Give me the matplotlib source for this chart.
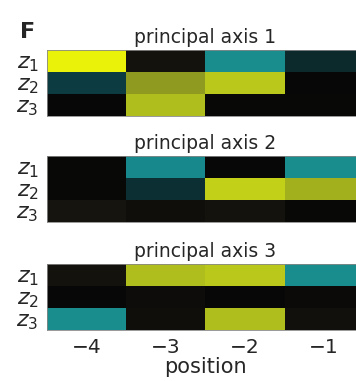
import numpy as np
import matplotlib
matplotlib.use("Agg")
import matplotlib.pyplot as plt
from matplotlib.colors import LinearSegmentedColormap

plt.rcParams['font.family'] = ['DejaVu Sans']
plt.rcParams['mathtext.fontset'] = 'dejavusans'

# positions along the sequence and the latent rows
positions = [-4, -3, -2, -1]
row_labels = ['$z_1$', '$z_2$', '$z_3$']
titles = ['principal axis 1', 'principal axis 2', 'principal axis 3']

# loading magnitudes (0..1)
axis1 = [[1.00, 0.06, 0.50, 0.18],
         [0.30, 0.70, 0.83, 0.00],
         [0.00, 0.80, 0.01, 0.01]]
axis2 = [[0.01, 0.49, 0.00, 0.50],
         [0.01, 0.22, 0.86, 0.76],
         [0.07, 0.04, 0.06, 0.01]]
axis3 = [[0.06, 0.80, 0.83, 0.50],
         [0.00, 0.03, 0.00, 0.02],
         [0.50, 0.04, 0.80, 0.05]]

cmap = LinearSegmentedColormap.from_list('pca', [
    (0.00, '#070707'),
    (0.07, '#17150f'),
    (0.18, '#0c2a2c'),
    (0.30, '#0d3c42'),
    (0.50, '#188c90'),
    (0.70, '#8f9a22'),
    (0.82, '#b6c61c'),
    (1.00, '#eaf20a'),
])

txt = '#262626'
fig = plt.figure(figsize=(3.56, 3.81), dpi=100)
bottoms = [0.696, 0.417, 0.134]
for i, (data, title) in enumerate(zip([axis1, axis2, axis3], titles)):
    ax = fig.add_axes([0.132, bottoms[i], 0.888, 0.173])
    ax.imshow(np.array(data), cmap=cmap, vmin=0, vmax=1, aspect='auto',
              interpolation='nearest')
    ax.set_title(title, fontsize=13.5, pad=5, color=txt)
    ax.set_yticks(range(len(row_labels)))
    ax.set_yticklabels(row_labels, fontsize=16, color=txt)
    ax.tick_params(axis='y', length=0, pad=6)
    ax.tick_params(axis='x', length=0, pad=6)
    if i == 2:
        ax.set_xticks(range(len(positions)))
        ax.set_xticklabels(['\u2212%d' % abs(p) for p in positions],
                           fontsize=14.5, color=txt)
        ax.set_xlabel('position', fontsize=15, labelpad=0, color=txt)
    else:
        ax.set_xticks([])
    for s in ax.spines.values():
        s.set_color('#888888')
        s.set_linewidth(0.6)

fig.text(0.056, 0.90, 'F', fontsize=16, fontweight='bold', color=txt)

fig.savefig('out.png', dpi=100)
